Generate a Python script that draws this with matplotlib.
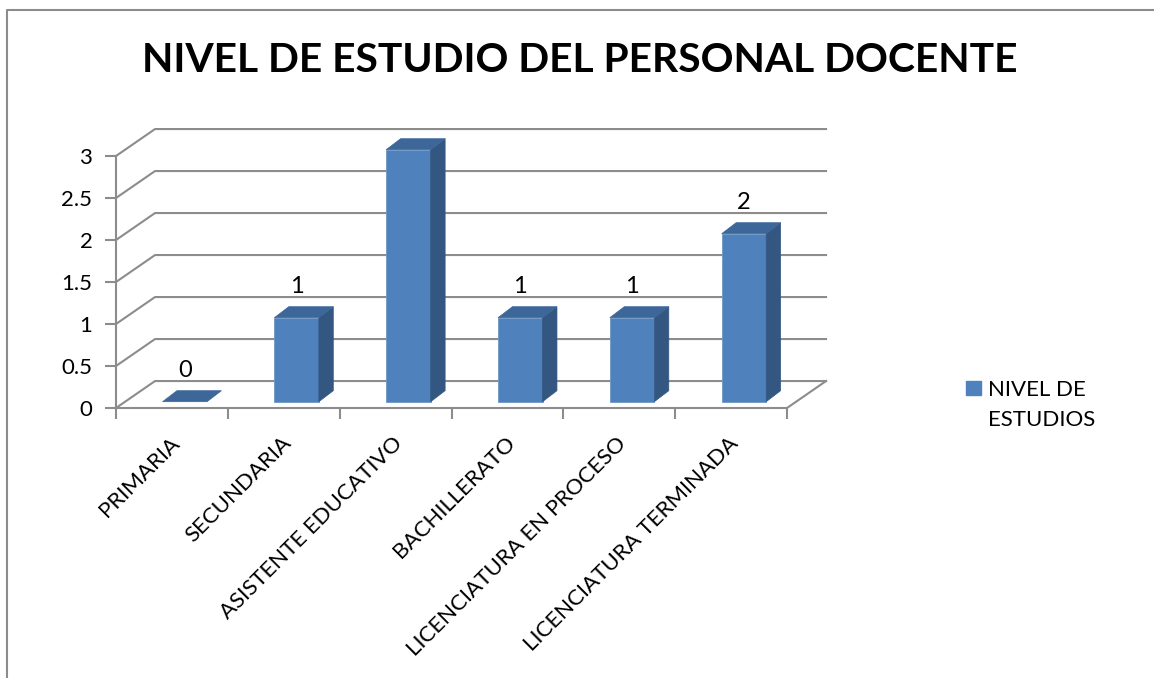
import matplotlib.pyplot as plt
from matplotlib.patches import Polygon, Rectangle
from matplotlib.lines import Line2D
from matplotlib.transforms import offset_copy
import numpy as np

plt.rcParams['font.family'] = ['Lato', 'DejaVu Sans']

# data
categorias = ['PRIMARIA', 'SECUNDARIA', 'ASISTENTE EDUCATIVO', 'BACHILLERATO',
              'LICENCIATURA EN PROCESO', 'LICENCIATURA TERMINADA']
valores = [0, 1, 3, 1, 1, 2]
serie = ['NIVEL DE', 'ESTUDIOS']
titulo = 'NIVEL DE ESTUDIO DEL PERSONAL DOCENTE'
y_ticks = [0, 0.5, 1, 1.5, 2, 2.5, 3]

# colours
c_front = '#4F81BD'
c_top = '#3D6699'
c_side = '#345782'
c_grid = '#8C8C8C'

W, H = 1154, 678
fig = plt.figure(figsize=(W / 100, H / 100), dpi=100)

# axes = front plane of the fake 3d box
ax = fig.add_axes([116 / W, 1 - 408 / H, (787 - 116) / W, (408 - 156) / H])
n = len(categorias)
ax.set_xlim(-0.5, n - 0.5)
ax.set_ylim(0, 3)
for s in ['top', 'right', 'bottom']:
    ax.spines[s].set_visible(False)
ax.spines['left'].set_color(c_grid)
ax.spines['left'].set_linewidth(1.5)
ax.set_yticks(y_ticks)
ax.set_yticklabels([f'{t:g}' for t in y_ticks], fontsize=16)
ax.set_xticks(np.arange(n + 1) - 0.5)
ax.set_xticklabels([])
ax.tick_params(axis='both', color=c_grid, width=1.5, length=8, direction='out')
ax.tick_params(axis='y', pad=9)
ax.patch.set_visible(False)

# depth of the box (data units)
DX, DY = 0.349, 0.321
# bar placement inside the depth
BX, BY = 0.115, 0.075
BW = 0.398
SX, SY = 0.129, 0.131

# gridlines: left wall + back wall
for t in y_ticks:
    ax.plot([-0.5, -0.5 + DX, n - 0.5 + DX], [t, t + DY, t + DY],
            color=c_grid, lw=1.5, clip_on=False, zorder=1)
# floor front edge and right edge
ax.plot([-0.5, n - 0.5, n - 0.5 + DX], [0, 0, DY],
        color=c_grid, lw=1.5, clip_on=False, zorder=1)

x = np.arange(n)
for xi, v in zip(x, valores):
    x0 = xi + BX - BW / 2
    x1 = xi + BX + BW / 2
    y0 = BY
    y1 = BY + v
    if v > 0:
        ax.bar(xi + BX, v, width=BW, bottom=BY, color=c_front,
               edgecolor='#6F97C8', linewidth=0.6, zorder=3, clip_on=False)
        side = Polygon([(x1, y0), (x1 + SX, y0 + SY), (x1 + SX, y1 + SY), (x1, y1)],
                       closed=True, facecolor=c_side, edgecolor=c_side, lw=0.5,
                       zorder=3, clip_on=False)
        ax.add_patch(side)
    top = Polygon([(x0, y1), (x1, y1), (x1 + SX, y1 + SY), (x0 + SX, y1 + SY)],
                  closed=True, facecolor=c_top, edgecolor=c_top, lw=0.5,
                  zorder=3, clip_on=False)
    ax.add_patch(top)

# data labels (the one for the tallest bar is not shown in the original)
lab_tr = offset_copy(ax.transData, fig=fig, y=7, units='points')
for xi, v in zip(x, valores):
    if v == max(valores):
        continue
    ax.text(xi + BX, BY + SY + v, f'{v}', transform=lab_tr,
            ha='center', va='bottom', fontsize=17, clip_on=False)

# category labels
cat_tr = offset_copy(ax.transData, fig=fig, x=8, y=-18, units='points')
for xi, c in zip(x, categorias):
    ax.text(xi, 0, c, transform=cat_tr, rotation=45, ha='right', va='top',
            fontsize=16, clip_on=False)

# title
fig.text(580 / W, 1 - 61 / H, titulo, ha='center', va='center',
         fontsize=29.3, fontweight='bold')

# legend (drawn by hand to get the two-line spacing)
fig.add_artist(Rectangle((966 / W, 1 - 395 / H), 15 / W, 14 / H,
                         transform=fig.transFigure, facecolor=c_front,
                         edgecolor=c_front))
fig.text(988 / W, 1 - 396 / H, serie[0], ha='left', va='baseline', fontsize=16)
fig.text(988 / W, 1 - 426 / H, serie[1], ha='left', va='baseline', fontsize=16)

# chart border
fig.add_artist(Line2D([7 / W, 7 / W, 1], [0, 1 - 10 / H, 1 - 10 / H],
                      color='#8C8C8C', lw=1.5))

fig.savefig('out.png', dpi=100)
